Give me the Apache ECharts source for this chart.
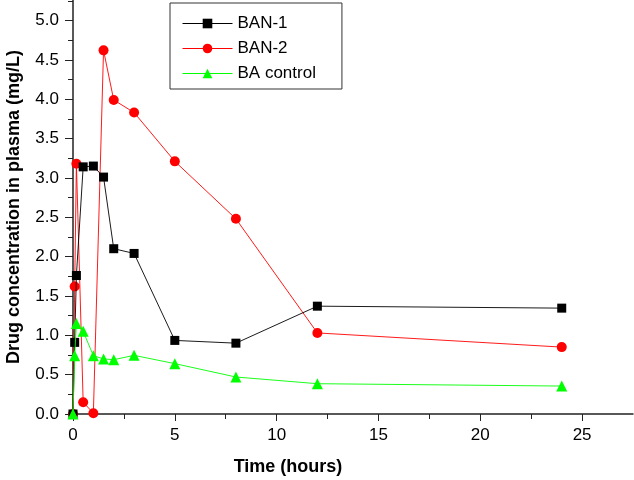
<!DOCTYPE html>
<html><head><meta charset="utf-8">
<script src="https://cdn.jsdelivr.net/npm/echarts@6/dist/echarts.min.js"></script>
<style>html,body{margin:0;padding:0;background:#fff}#c{width:634px;height:480px}</style>
</head><body><div id="c"></div>
<script>
var times = [0, 0.083, 0.167, 0.5, 1, 1.5, 2, 3, 5, 8, 12, 24];
var ban1 = [0, 0.91, 1.76, 3.14, 3.15, 3.01, 2.10, 2.04, 0.935, 0.90, 1.37, 1.345];
var ban2 = [0, 1.62, 3.18, 0.15, 0.01, 4.62, 3.99, 3.83, 3.21, 2.48, 1.03, 0.85];
var baControl = [0, 0.74, 1.15, 1.05, 0.74, 0.70, 0.69, 0.745, 0.64, 0.47, 0.385, 0.355];
var xTicks = [0, 5, 10, 15, 20, 25];
var yTicks = [0, 0.5, 1, 1.5, 2, 2.5, 3, 3.5, 4, 4.5, 5];

function pairs(arr){ return times.map(function(t,i){ return [t, arr[i]]; }); }
var font = 'Liberation Sans, Arial, sans-serif';
var chart = echarts.init(document.getElementById('c'), null, {renderer:'canvas'});
chart.setOption({
  animation:false,
  backgroundColor:'#fff',
  grid:{left:73, right:1, top:0, bottom:66, containLabel:false, outerBoundsMode:'none'},
  legend:{
    left:170, top:3, orient:'vertical',
    itemWidth:50, itemHeight:12, itemGap:8,
    padding:[12,26,7,12],
    borderColor:'#333', borderWidth:1,
    lineStyle:{width:1},
    textStyle:{fontFamily:font, fontSize:17, color:'#000'},
    data:['BAN-1','BAN-2','BA control']
  },
  xAxis:{
    type:'value', min:0, max:27.5, interval:5,
    name:'Time (hours)', nameLocation:'middle', nameGap:44,
    nameTextStyle:{fontFamily:font, fontSize:18, fontWeight:'bold', color:'#000', padding:[0,130,0,0]},
    axisLine:{lineStyle:{color:'#222', width:1.5}},
    axisTick:{show:true, inside:false, length:7, customValues:xTicks, lineStyle:{color:'#222'}},
    minorTick:{show:true, splitNumber:2, length:5, lineStyle:{color:'#222'}},
    axisLabel:{customValues:xTicks, fontFamily:font, fontSize:17, color:'#000', margin:13},
    splitLine:{show:false}
  },
  yAxis:{
    type:'value', min:0, max:5.26, interval:0.5,
    name:'Drug concentration in plasma (mg/L)', nameLocation:'middle', nameGap:50,
    nameTextStyle:{fontFamily:font, fontSize:18, fontWeight:'bold', color:'#000'},
    axisLine:{show:true, lineStyle:{color:'#222', width:1.5}},
    axisTick:{show:true, inside:false, length:8, customValues:yTicks, lineStyle:{color:'#222'}},
    minorTick:{show:true, splitNumber:2, length:5, lineStyle:{color:'#222'}},
    axisLabel:{customValues:yTicks, fontFamily:font, fontSize:17, color:'#000', margin:14,
      formatter:function(v){return v.toFixed(1);}},
    splitLine:{show:false}
  },
  series:[
    {name:'BAN-1', type:'line', data:pairs(ban1), symbol:'rect', symbolSize:9,
     itemStyle:{color:'#000'}, lineStyle:{color:'#000', width:0.9}, z:3},
    {name:'BAN-2', type:'line', data:pairs(ban2), symbol:'circle', symbolSize:10,
     itemStyle:{color:'#ff0000'}, lineStyle:{color:'#ff0000', width:0.9}, z:2},
    {name:'BA control', type:'line', data:pairs(baControl), symbol:'triangle', symbolSize:11,
     itemStyle:{color:'#00ff00'}, lineStyle:{color:'#00ff00', width:0.9}, z:4}
  ]
});
</script></body></html>
